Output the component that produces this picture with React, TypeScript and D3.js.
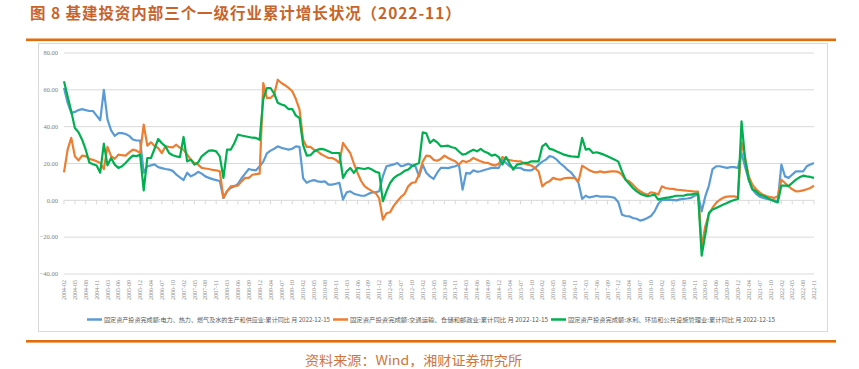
import React from 'react';
import * as d3 from 'd3';

// categories: monthly (Jan merged into Feb), 2004-02 .. 2022-11
const years = d3.range(2004, 2023);
const months = [2, 3, 4, 5, 6, 7, 8, 9, 10, 11, 12];
const categories: string[] = [];
years.forEach((yr) => months.forEach((m) => {
  if (yr === 2022 && m > 11) return;
  categories.push(`${yr}-${m < 10 ? '0' + m : m}`);
}));

const yTicks = [80, 60, 40, 20, 0, -20, -40];

// 电力、热力、燃气及水的生产和供应业
const powerSeries = [
  61, 53, 47.5, 48, 49, 49.5, 49, 48.5, 48.5, 46, 43.5,
  60, 44, 38, 35, 36.5, 36.5, 36, 35, 33, 32.5, 32.5,
  15, 18.5, 19, 19.5, 18, 17.5, 17, 16.7, 16, 14, 12.5,
  11, 15, 13, 14, 15.5, 14.5, 13, 12.2, 11.5, 11, 10.5,
  1.3, 5, 6.7, 7.5, 9, 12, 14.5, 17, 16.5, 16.3, 18.5,
  21, 25.5, 27, 28, 29.3, 28.5, 28, 27.5, 28, 29.3, 29,
  12, 9.5, 10.5, 11, 10.3, 10, 10.3, 8.5, 8.5, 9, 9.5,
  0.4, 4.3, 4.9, 3.6, 3, 2.5, 2.5, 3.5, 4.3, 4.3, 4.9,
  13, 18.5, 19, 19.5, 20.3, 18.5, 19, 19.8, 19, 18.5, 13,
  19.4, 15, 13, 11.6, 15, 17.6, 17.6, 17.5, 18, 18.5, 19.4,
  5.8, 14.9, 14.5, 16.3, 15.5, 15.8, 16.5, 17, 17.6, 17.6, 17.6,
  22.1, 20.3, 18.5, 17.6, 17.6, 17.6, 16.5, 16.3, 16.3, 17.5, 19.4,
  21, 22.1, 24, 23.5, 22.1, 20, 18.5, 16.5, 15, 12.5, 9.4,
  0.8, 2.5, 1.6, 2, 2.5, 2, 2, 2, 1.8, 1.3, -1,
  -7.8, -8.5, -8.7, -9.6, -10, -11, -10.5, -9.6, -8.5, -6, -2,
  0.4, 0.3, 0.4, 0.2, 0, 0.5, 0.8, 1, 1.3, 2.5, 3.1,
  -6, 2.2, 8, 17, 18.5, 18.5, 18, 17.6, 18, 18, 17.6,
  25.7, 18, 11, 6, 3.5, 2, 1.3, 0.8, 0.4, 0, -0.4,
  19.4, 13, 12.2, 14, 15.7, 15.7, 15.7, 18.5, 19.5, 20.3,
];

// 交通运输、仓储和邮政业
const transportSeries = [
  15.2, 27.5, 33.9, 23.9, 21.7, 24.3, 24, 22.5, 22, 21.2, 20.3,
  17, 29, 24, 22.5, 24.8, 24.5, 24.3, 26, 27.5, 27, 25.7,
  41.1, 29.7, 31.5, 29.5, 28.4, 25.7, 29.3, 29, 28.8, 30.2, 28.5,
  27.5, 24.8, 22.1, 20.3, 19.4, 17.6, 17.3, 17, 16.5, 16.3, 15.7,
  1.3, 4.9, 7.6, 7.8, 8, 10.3, 12.2, 12.2, 13.9, 14.2, 14.5,
  63.7, 55.6, 55.6, 57.4, 65.5, 63.7, 62.5, 61, 59.2, 55, 49.2,
  32.9, 29, 29, 27.5, 26.6, 25, 24, 23, 23, 22, 20.3,
  31.2, 28.4, 25.7, 20, 15, 10.5, 7.6, 6.2, 5, 4, 1,
  -10.5, -7, -6.5, -3, -0.5, 1.8, 3.5, 7.6, 9.5, 9.8, 14,
  21, 24.3, 24, 22, 21.5, 22.5, 24.3, 23, 22, 21.2, 19.4,
  21.5, 20.8, 21.5, 23, 22, 21.2, 20.5, 20.3, 19.4, 18.9, 19.8,
  23.5, 22.5, 21.8, 21.5, 21.3, 21.2, 20, 19.4, 18.9, 17.6, 15.7,
  7.6, 9.4, 10.3, 12.2, 11.5, 11.2, 12, 12.2, 12.2, 12, 10.3,
  18.8, 17.6, 16.3, 15.5, 15.2, 15.7, 15.2, 15.5, 15.7, 15.7, 15.5,
  13.9, 11.2, 10.3, 8.5, 6.5, 4.9, 3.8, 3.1, 4.3, 4, 3.1,
  7.6, 6.7, 6.4, 6.2, 5.8, 5.6, 5.4, 5.2, 5, 4.8, 4.7,
  -25, -14.1, -7.5, -4, -1.4, 0.3, 1.5, 2, 2.2, 2.2, 1.5,
  31.5, 23, 13, 8.5, 6, 4.3, 3, 2.2, 1.8, 1.3, 2.2,
  11.2, 9.4, 7.6, 6, 4.9, 5, 5.4, 6, 6.7, 8,
];

// 水利、环境和公共设施管理业
const waterSeries = [
  64.6, 56.4, 48.3, 39.3, 37, 32.9, 27.5, 20.5, 19.6, 18.9, 15,
  30.8, 19, 23, 19.4, 17.6, 18.5, 20.3, 22.5, 24.3, 24, 24.8,
  5.4, 23, 23, 28, 33.3, 31, 29.3, 25.7, 24.5, 23.9, 23.5,
  34.4, 21.2, 22.1, 19.4, 20.5, 23.9, 25.5, 27, 27.1, 26.6, 23.9,
  12.2, 27.5, 27.5, 31, 35.7, 35.2, 34.8, 34.4, 34, 33.9, 32.9,
  55, 61, 61, 58, 53, 52, 51.4, 49.5, 49.6, 46, 44.7,
  30, 24.3, 24.5, 26.5, 27.5, 27.9, 27.5, 26.6, 25.7, 25.7, 25.7,
  12.2, 15.7, 17.6, 14.9, 17.6, 17.3, 17, 17.6, 16.7, 15.5, 14.9,
  -0.5, 4.9, 9.4, 12, 13.5, 14.5, 16, 16.7, 18.5, 19.5, 20.3,
  36.9, 36.4, 31.2, 32.9, 31.5, 29.3, 29.5, 29.7, 28.8, 28.4, 26.5,
  24.8, 25.3, 26.5, 27.5, 26.6, 27.9, 26.5, 25.7, 24.3, 24.8, 23.5,
  19.4, 23.5, 20, 16.7, 19.4, 19.8, 20.3, 20.3, 21.2, 21.2, 21.2,
  29.3, 30.8, 27.9, 27.5, 26.5, 25.7, 24.8, 24.3, 23.9, 23.7, 23.5,
  33.9, 27.5, 27.9, 25.7, 26.1, 25.5, 24.8, 23.9, 23, 22.1, 21,
  15.7, 11.2, 9, 6.7, 5, 3.6, 2.8, 2.2, 2.6, 3.1, 0.4,
  1, 1.3, 1.6, 2, 2.5, 2.5, 2.5, 3.1, 3.1, 3.6, 3.6,
  -30, -18.6, -6.8, -5, -4.1, -3.2, -2.3, -1.5, -0.5, 0.2, 0.8,
  42.9, 22.1, 11.2, 6, 4.9, 3, 2.5, 1.5, 0.4, -0.5, -1.1,
  8, 8, 7.8, 9.5, 11.2, 12.5, 13.4, 13, 12.7, 12.2,
];

const seriesNames = [
  '固定资产投资完成额:电力、热力、燃气及水的生产和供应业:累计同比 月 2022-12-15',
  '固定资产投资完成额:交通运输、仓储和邮政业:累计同比 月 2022-12-15',
  '固定资产投资完成额:水利、环境和公共设施管理业:累计同比 月 2022-12-15',
];
const seriesColors = ['#5B9BD5', '#ED7D31', '#00B050'];
const seriesData = [powerSeries, transportSeries, waterSeries];

const W = 859;
const H = 369;
const ORANGE = '#E36C0A';
const SERIF = '"Liberation Serif", "DejaVu Serif", serif';
const CJK = '"Noto Sans CJK SC", sans-serif';

export default function App() {
  const x = d3.scaleLinear().domain([0, categories.length - 1]).range([64, 814]);
  const y = d3.scaleLinear().domain([-40, 80]).range([274, 53]);
  const line = d3.line<number>().x((_, i) => x(i)).y((d) => y(d));
  const tickIdx = d3.range(0, categories.length, 3);

  const legendItems = [
    { x0: 87, tx: 104, tl: 226 },
    { x0: 333, tx: 350, tl: 198 },
    { x0: 551, tx: 568, tl: 207 },
  ];

  return (
    <div style={{ position: 'absolute', left: 0, top: 0 }}>
      <svg width={W} height={H} style={{ display: 'block', background: '#fff' }}>
        <text x={30} y={19} fontFamily={CJK} fontWeight={700} fontSize={15.5} fill="#C8642A" letterSpacing={0.95}>
          图 8  基建投资内部三个一级行业累计增长状况（2022-11）
        </text>
        <rect x={26} y={38.5} width={810} height={2.6} fill={ORANGE} />
        <rect x={38.5} y={43.5} width={789} height={288} fill="#fff" stroke="#D9D9D9" strokeWidth={1} />

        {yTicks.map((t) => (
          <g key={t}>
            <line x1={64} x2={814} y1={y(t)} y2={y(t)} stroke="#D9D9D9" strokeWidth={1} />
            <text x={58} y={y(t)} dy="0.35em" textAnchor="end" fontFamily={SERIF} fontSize={6.5} fill="#808080">
              {d3.format('.2f')(t)}
            </text>
          </g>
        ))}

        {tickIdx.map((i) => (
          <g key={i}>
            <line x1={x(i)} x2={x(i)} y1={y(0)} y2={y(0) + 4} stroke="#D9D9D9" strokeWidth={1} />
            <text
              transform={`translate(${x(i)},280) rotate(-90)`}
              dy="0.35em"
              textAnchor="end"
              fontFamily={SERIF}
              fontSize={6}
              fill="#8C8C8C"
            >
              {categories[i]}
            </text>
          </g>
        ))}

        {seriesData.map((s, k) => (
          <path key={k} d={line(s) || ''} fill="none" stroke={seriesColors[k]} strokeWidth={2.2} strokeLinejoin="round" />
        ))}

        {legendItems.map((it, k) => (
          <g key={k}>
            <line x1={it.x0} x2={it.x0 + 15} y1={319.5} y2={319.5} stroke={seriesColors[k]} strokeWidth={2.5} />
            <text x={it.tx} y={319.5} dy="0.35em" fontFamily={CJK} fontSize={6} fill="#595959" textLength={it.tl} lengthAdjust="spacingAndGlyphs">
              {seriesNames[k]}
            </text>
          </g>
        ))}

        <rect x={26} y={340} width={810} height={2.6} fill={ORANGE} />
        <text x={305} y={365} fontFamily={CJK} fontSize={13} fill="#D0753A" textLength={217} lengthAdjust="spacingAndGlyphs">
          资料来源：Wind，湘财证券研究所
        </text>
      </svg>
    </div>
  );
}
